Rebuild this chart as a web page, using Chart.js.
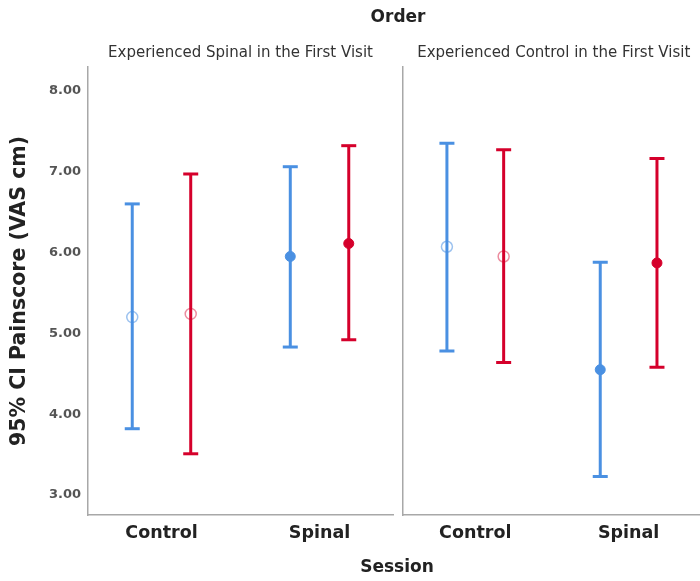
<!DOCTYPE html>
<html>
<head>
<meta charset="utf-8">
<script src="https://cdn.jsdelivr.net/npm/chart.js@4.4.1/dist/chart.umd.min.js"></script>
<style>
  html, body { margin: 0; padding: 0; background: #fff; }
  #wrap { position: relative; width: 700px; height: 581px; overflow: hidden; background: #fff; }
  #c1 { position: absolute; left: 0; top: 0; }
  #c2 { position: absolute; left: 0; top: 0; }
</style>
</head>
<body>
<div id="wrap">
  <canvas id="c1" width="700" height="581"></canvas>
  <canvas id="c2" width="715" height="581"></canvas>
</div>
<script>
// ---- data ----
const sessions = ['Control', 'Spinal'];
const panelTitles = ['Experienced Spinal in the First Visit', 'Experienced Control in the First Visit'];
const seriesNames = ['Group 1', 'Group 2'];
const yTicks = [3, 4, 5, 6, 7, 8];

// Panel 1: Experienced Spinal in the First Visit
const p1BlueMean = [5.20, 5.95];
const p1BlueLow  = [3.82, 4.83];
const p1BlueHigh = [6.60, 7.06];
const p1RedMean  = [5.24, 6.11];
const p1RedLow   = [3.51, 4.92];
const p1RedHigh  = [6.97, 7.32];

// Panel 2: Experienced Control in the First Visit
const p2BlueMean = [6.07, 4.55];
const p2BlueLow  = [4.78, 3.23];
const p2BlueHigh = [7.35, 5.88];
const p2RedMean  = [5.95, 5.87];
const p2RedLow   = [4.64, 4.58];
const p2RedHigh  = [7.27, 7.16];

// ---- styling ----
const BLUE = 'rgb(74,144,226)';
const BLUE_LIGHT = 'rgba(74,144,226,0.55)';
const RED = 'rgb(213,0,43)';
const RED_LIGHT = 'rgba(213,0,43,0.45)';
const FONT = "'DejaVu Sans', 'Open Sans', sans-serif";
const OFFSET = 0.37;               // dodge of the two groups within a session
const catPos = (i) => 1 + 2 * i;   // session positions on the x scale

function buildDatasets(series) {
  const ds = [];
  series.forEach((s) => {
    sessions.forEach((name, i) => {
      const x = catPos(i) + s.dx;
      ds.push({
        type: 'line',
        label: s.name + ' CI ' + name,
        data: [{ x: x, y: s.low[i] }, { x: x, y: s.high[i] }],
        borderColor: s.color,
        borderWidth: 3,
        showLine: true,
        pointStyle: 'line',
        pointRadius: 7.5,
        pointHoverRadius: 7.5,
        pointBorderColor: s.color,
        pointBorderWidth: 3,
        fill: false
      });
      const hollow = (name === 'Control');
      ds.push({
        type: 'scatter',
        label: s.name + ' mean ' + name,
        data: [{ x: x, y: s.mean[i] }],
        pointStyle: 'circle',
        pointRadius: hollow ? 5.5 : 5,
        pointHoverRadius: hollow ? 5.5 : 5,
        pointBackgroundColor: hollow ? 'rgba(255,255,255,0.45)' : s.color,
        pointBorderColor: hollow ? s.light : s.color,
        pointBorderWidth: hollow ? 1.5 : 1
      });
    });
  });
  return ds;
}

function makeOptions(opts) {
  return {
    responsive: false,
    animation: false,
    events: [],
    layout: { padding: { left: opts.padLeft, right: opts.padRight, top: 67, bottom: 0 } },
    plugins: { legend: { display: false }, tooltip: { enabled: false }, title: { display: false } },
    scales: {
      x: {
        type: 'linear',
        min: opts.xMin,
        max: opts.xMax,
        afterBuildTicks: (scale) => { scale.ticks = sessions.map((_, i) => ({ value: catPos(i) })); },
        afterFit: (scale) => { scale.height = 66; },
        ticks: {
          callback: (v) => sessions[(v - 1) / 2],
          font: { family: FONT, size: 17.5, weight: 'bold' },
          color: '#222',
          padding: 8,
          maxRotation: 0,
          autoSkip: false
        },
        grid: { display: false, drawTicks: false },
        border: { display: true, color: '#a8a8a8', width: 1.5 }
      },
      y: {
        type: 'linear',
        min: 2.753,
        max: 8.293,
        afterBuildTicks: (scale) => { scale.ticks = yTicks.map((v) => ({ value: v })); },
        afterFit: (scale) => { scale.width = opts.yWidth; },
        ticks: {
          display: opts.showYTicks,
          callback: (v) => v.toFixed(2),
          font: { family: FONT, size: 13, weight: '600' },
          color: '#555',
          padding: 7
        },
        grid: { display: false, drawTicks: false },
        border: { display: true, color: '#a8a8a8', width: 1.5 }
      }
    }
  };
}

function textPlugin(panelIndex, extra) {
  return {
    id: 'texts' + panelIndex,
    afterDraw(chart) {
      const ctx = chart.ctx;
      const ca = chart.chartArea;
      ctx.save();
      ctx.fillStyle = '#333';
      ctx.textAlign = 'center';
      ctx.textBaseline = 'middle';
      ctx.font = '15px ' + FONT;
      ctx.fillText(panelTitles[panelIndex], (ca.left + ca.right) / 2, 53);
      if (extra) {
        ctx.fillStyle = '#222';
        ctx.font = 'bold 17px ' + FONT;
        ctx.fillText('Order', 398, 18);
        ctx.fillText('Session', 397, 568);
        ctx.save();
        ctx.translate(20, 291);
        ctx.rotate(-Math.PI / 2);
        ctx.font = 'bold 20.5px ' + FONT;
        ctx.fillText('95% CI Painscore (VAS cm)', 0, 0);
        ctx.restore();
      }
      ctx.restore();
    }
  };
}

const series1 = [
  { name: seriesNames[0], color: BLUE, light: BLUE_LIGHT, dx: -OFFSET, mean: p1BlueMean, low: p1BlueLow, high: p1BlueHigh },
  { name: seriesNames[1], color: RED, light: RED_LIGHT, dx: OFFSET, mean: p1RedMean, low: p1RedLow, high: p1RedHigh }
];
const series2 = [
  { name: seriesNames[0], color: BLUE, light: BLUE_LIGHT, dx: -OFFSET, mean: p2BlueMean, low: p2BlueLow, high: p2BlueHigh },
  { name: seriesNames[1], color: RED, light: RED_LIGHT, dx: OFFSET, mean: p2RedMean, low: p2RedLow, high: p2RedHigh }
];

new Chart(document.getElementById('c1'), {
  type: 'scatter',
  data: { datasets: buildDatasets(series1) },
  options: makeOptions({ padLeft: 0, padRight: 307, yWidth: 88, showYTicks: true, xMin: 0.07, xMax: 3.93 }),
  plugins: [textPlugin(0, true)]
});

new Chart(document.getElementById('c2'), {
  type: 'scatter',
  data: { datasets: buildDatasets(series2) },
  options: makeOptions({ padLeft: 403, padRight: 0, yWidth: 0, showYTicks: false, xMin: 0.057, xMax: 3.99 }),
  plugins: [textPlugin(1, false)]
});
</script>
</body>
</html>
